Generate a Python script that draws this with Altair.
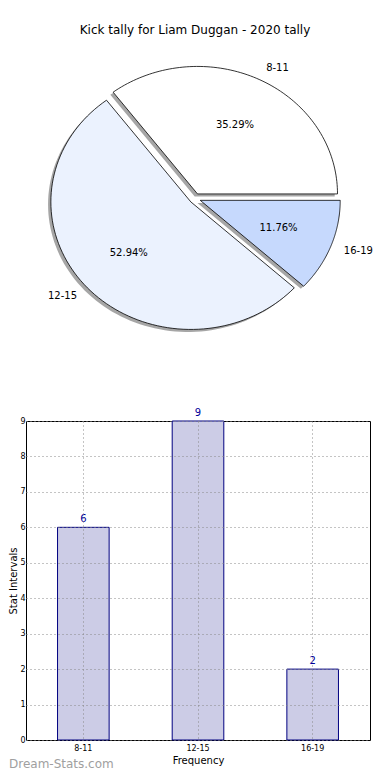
import altair as alt
import pandas as pd

# ---- data ----
slices = ["8-11", "12-15", "16-19"]
counts = [6, 9, 2]
slice_colors = ["#ffffff", "#ebf2fe", "#c6d9fd"]
y_ticks = [0, 1, 2, 3, 4, 5, 6, 7, 8, 9]
title_text = "Kick tally for Liam Duggan - 2020 tally"
x_title = "Frequency"
y_title = "Stat Intervals"
watermark = "Dream-Stats.com"

df = pd.DataFrame({"slice": slices, "count": counts, "color": slice_colors,
                   "idx": list(range(len(slices)))})

FONT = "DejaVu Sans"
N = 90          # arc resolution
EXPL = 0.04     # explode distance (fraction of radius)

# ---- pie (elliptical, matplotlib style) ----
PIE_W, PIE_H = 344, 380
CX = 169
xs = alt.Scale(domain=[-CX / 140, (PIE_W - CX) / 140], zero=False, nice=False)
ys = alt.Scale(domain=[-(PIE_H - 190.5) / 127.5, 190.5 / 127.5], zero=False, nice=False)

pie_base = (
    alt.Chart(df)
    .transform_joinaggregate(total="sum(count)")
    .transform_window(cum="sum(count)", sort=[alt.SortField("idx", order="ascending")], frame=[None, 0])
    .transform_calculate(start="(datum.cum - datum.count) / datum.total")
    .transform_calculate(end="datum.cum / datum.total")
    .transform_calculate(mid="PI * (datum.start + datum.end)")
    .transform_calculate(pct="format(100 * datum.count / datum.total, '.2f') + '%'")
    .transform_calculate(ex=f"{EXPL} * cos(datum.mid)")
    .transform_calculate(ey=f"{EXPL} * sin(datum.mid)")
)

poly = (
    pie_base
    .transform_calculate(k=f"sequence(-1, {N + 2})")
    .transform_flatten(["k"])
    .transform_calculate(kk=f"clamp(datum.k, 0, {N})")
    .transform_calculate(ang=f"2 * PI * (datum.start + (datum.end - datum.start) * datum.kk / {N})")
    .transform_calculate(r=f"(datum.k < 0 || datum.k > {N}) ? 0 : 1")
    .transform_calculate(px="datum.ex + datum.r * cos(datum.ang)")
    .transform_calculate(py="datum.ey + datum.r * sin(datum.ang)")
    .transform_calculate(sx="datum.px - 0.02")
    .transform_calculate(sy="datum.py - 0.02")
)

shadow = poly.mark_line(fill="#4d4d4d", fillOpacity=0.5, strokeWidth=0).encode(
    x=alt.X("sx:Q", scale=xs, axis=None),
    y=alt.Y("sy:Q", scale=ys, axis=None),
    order=alt.Order("k:Q"),
    detail="slice:N",
)

wedges = poly.mark_line(stroke="black", strokeWidth=0.8).encode(
    x=alt.X("px:Q", scale=xs, axis=None),
    y=alt.Y("py:Q", scale=ys, axis=None),
    order=alt.Order("k:Q"),
    detail="slice:N",
    fill=alt.Fill("color:N", scale=None),
)

lab = (
    pie_base
    .transform_calculate(lx="datum.ex + 1.1 * cos(datum.mid)")
    .transform_calculate(ly="datum.ey + 1.1 * sin(datum.mid)")
    .transform_calculate(qx="datum.ex + 0.6 * cos(datum.mid)")
    .transform_calculate(qy="datum.ey + 0.6 * sin(datum.mid)")
    .transform_calculate(side="cos(datum.mid) >= 0 ? 1 : 0")
)

lab_right = lab.transform_filter("datum.side == 1").mark_text(
    align="left", baseline="middle", fontSize=10, font=FONT, color="black"
).encode(x=alt.X("lx:Q", scale=xs, axis=None), y=alt.Y("ly:Q", scale=ys, axis=None), text="slice:N")

lab_left = lab.transform_filter("datum.side == 0").mark_text(
    align="right", baseline="middle", fontSize=10, font=FONT, color="black"
).encode(x=alt.X("lx:Q", scale=xs, axis=None), y=alt.Y("ly:Q", scale=ys, axis=None), text="slice:N")

pct_text = lab.mark_text(
    align="center", baseline="middle", fontSize=10, font=FONT, color="black"
).encode(x=alt.X("qx:Q", scale=xs, axis=None), y=alt.Y("qy:Q", scale=ys, axis=None), text="pct:N")

title_mark = alt.Chart(alt.Data(values=[{"t": title_text}])).mark_text(
    align="center", baseline="middle", fontSize=12, font=FONT, color="black"
).encode(text="t:N", x=alt.value(CX), y=alt.value(22))

pie = alt.layer(shadow, wedges, lab_right, lab_left, pct_text, title_mark).properties(
    width=PIE_W, height=PIE_H, view=alt.ViewBackground(strokeOpacity=0)
)

# ---- bar chart ----
BAR_W, BAR_H = 344, 319
xenc = alt.X(
    "slice:N", sort=slices,
    scale=alt.Scale(paddingInner=0.55, paddingOuter=0.275),
    axis=alt.Axis(title=x_title, labelAngle=0, labelFontSize=8, titleFontSize=10,
                  titleFontWeight="normal", ticks=False, domain=False, grid=True,
                  gridDash=[1, 3], gridColor="#888888", gridWidth=1, bandPosition=0.5,
                  labelPadding=4, titlePadding=3, labelColor="black", titleColor="black",
                  labelFont=FONT, titleFont=FONT, zindex=1),
)
yenc = alt.Y(
    "count:Q", scale=alt.Scale(domain=[0, 9], nice=False),
    axis=alt.Axis(values=y_ticks, title=y_title, labelFontSize=8, titleFontSize=10,
                  titleFontWeight="normal", ticks=False, domain=False, grid=True,
                  gridDash=[1, 3], gridColor="#888888", gridWidth=1, labelPadding=1,
                  titlePadding=1, labelColor="black", titleColor="black",
                  labelOverlap=False, labelFont=FONT, titleFont=FONT, zindex=1),
)

bars = alt.Chart(df).mark_bar(fill="#cccce6", stroke="#000080", strokeWidth=1).encode(x=xenc, y=yenc)
vals = alt.Chart(df).mark_text(dy=-8, fontSize=10, font=FONT, color="#000099").encode(
    x=xenc, y=yenc, text="count:Q"
)
wm = alt.Chart(alt.Data(values=[{"t": watermark}])).mark_text(
    align="left", baseline="middle", fontSize=12, font=FONT, color="#a0a0a0"
).encode(text="t:N", x=alt.value(-17), y=alt.value(343))

bar = alt.layer(bars, vals, wm).properties(
    width=BAR_W, height=BAR_H, view=alt.ViewBackground(stroke="black", strokeWidth=1)
)

chart = alt.vconcat(pie, bar, spacing=19).properties(padding=0).configure(font=FONT)

chart.save("out.html", embed_options={"renderer": "svg", "actions": False})
